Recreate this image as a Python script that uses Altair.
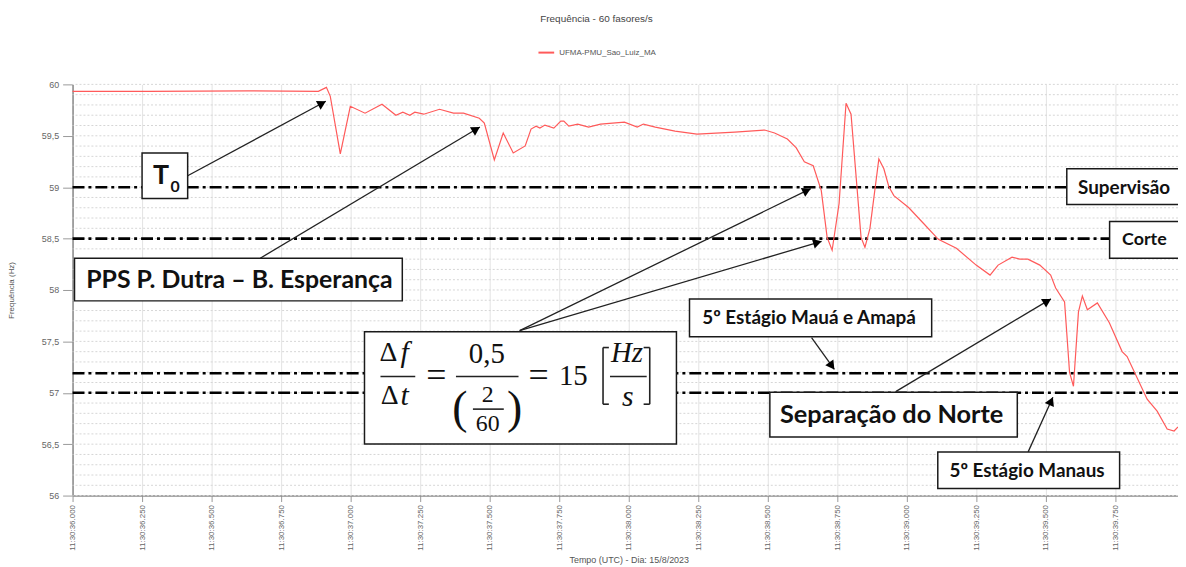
import math
import altair as alt
import pandas as pd

# ---------------- data: PMU frequency (seconds after 11:30:00 UTC, Hz) ----------------
series_name = "UFMA-PMU_Sao_Luiz_MA"
time_s = [36.000, 36.273, 36.630, 36.884, 36.913, 36.927, 36.963, 36.999, 37.052, 37.113,
          37.163, 37.188, 37.213, 37.231, 37.263, 37.320, 37.370, 37.406, 37.463, 37.481,
          37.517, 37.549, 37.585, 37.628, 37.649, 37.667, 37.681, 37.699, 37.731, 37.756,
          37.767, 37.785, 37.817, 37.856, 37.899, 37.985, 38.031, 38.053, 38.096, 38.167,
          38.246, 38.382, 38.489, 38.525, 38.571, 38.603, 38.632, 38.664, 38.693, 38.714,
          38.732, 38.757, 38.782, 38.800, 38.836, 38.850, 38.868, 38.900, 38.918, 38.936,
          38.954, 39.007, 39.061, 39.114, 39.179, 39.250, 39.300, 39.329, 39.379, 39.407,
          39.436, 39.479, 39.518, 39.536, 39.568, 39.586, 39.600, 39.618, 39.632, 39.650,
          39.686, 39.729, 39.775, 39.793, 39.865, 39.901, 39.937, 39.962, 39.976]
freq_hz = [59.932, 59.932, 59.937, 59.932, 59.971, 59.884, 59.324, 59.787, 59.720, 59.807,
           59.700, 59.729, 59.700, 59.729, 59.710, 59.758, 59.720, 59.720, 59.671, 59.623,
           59.266, 59.527, 59.333, 59.401, 59.565, 59.594, 59.575, 59.604, 59.575, 59.643,
           59.643, 59.594, 59.614, 59.585, 59.614, 59.633, 59.585, 59.614, 59.585, 59.546,
           59.517, 59.536, 59.556, 59.527, 59.469, 59.382, 59.246, 59.208, 58.966, 58.512,
           58.386, 58.841, 59.816, 59.710, 58.512, 58.415, 58.599, 59.275, 59.179, 59.005,
           58.918, 58.802, 58.647, 58.493, 58.406, 58.242, 58.145, 58.242, 58.319, 58.300,
           58.300, 58.242, 58.145, 58.019, 57.884, 57.198, 57.063, 57.787, 57.942, 57.807,
           57.874, 57.681, 57.401, 57.353, 56.937, 56.821, 56.647, 56.628, 56.667]

# ---------------- axes ----------------
x_ticks = [36.0, 36.25, 36.5, 36.75, 37.0, 37.25, 37.5, 37.75,
           38.0, 38.25, 38.5, 38.75, 39.0, 39.25, 39.5, 39.75]
y_ticks = [56.0, 56.5, 57.0, 57.5, 58.0, 58.5, 59.0, 59.5, 60.0]
grid_hz = [round(56.0 + 0.1 * i, 1) for i in range(41)]
x_domain = [36.0, 39.976]
y_domain = [56.0, 60.0]

# ---------------- reference (dash-dot) levels ----------------
ref_level = [59.0, 58.5, 57.19, 57.0]
ref_end = [39.576, 39.730, 39.976, 39.976]

# ---------------- annotation boxes ----------------
box_t0 = [36.250, 36.007, 37.050, 38.219, 38.508, 39.112, 39.576, 39.730]
box_t1 = [36.414, 37.186, 38.172, 39.090, 39.398, 39.766, 40.050, 40.050]
box_f0 = [59.333, 58.309, 57.594, 57.913, 57.005, 56.425, 59.179, 58.667]
box_f1 = [58.889, 57.894, 56.502, 57.546, 56.570, 56.068, 58.831, 58.309]

label_text = ["T", "0", "PPS P. Dutra – B. Esperança", "5º Estágio Mauá e Amapá",
              "Separação do Norte", "5º Estágio Manaus", "Supervisão", "Corte"]
label_t = [36.318, 36.369, 36.600, 38.649, 38.946, 39.433, 39.782, 39.855]
label_f = [59.111, 59.000, 58.097, 57.729, 56.783, 56.242, 58.995, 58.483]
label_size = [27, 16, 25, 19, 25.5, 19, 19, 18]

# ---------------- arrows (start -> tip) ----------------
arrow_t0 = [36.414, 36.675, 37.608, 37.608, 38.658, 38.962, 39.437]
arrow_f0 = [59.111, 58.309, 57.604, 57.604, 57.536, 57.014, 56.425]
arrow_t1 = [36.911, 37.465, 38.655, 38.694, 38.740, 39.519, 39.526]
arrow_f1 = [59.836, 59.585, 58.986, 58.473, 57.227, 57.913, 56.957]

# ---------------- formula  Δf/Δt = 0,5/(2/60) = 15 [Hz/s] ----------------
frm_up_text = ["Δ", "Δ", "=", "0,5", "(", "2", "60", ")", "=", "15"]
frm_up_t = [37.136, 37.141, 37.308, 37.490, 37.393, 37.493, 37.493, 37.590, 37.676, 37.801]
frm_up_f = [57.391, 56.966, 57.159, 57.372, 56.841, 56.976, 56.696, 56.841, 57.159, 57.159]
frm_up_size = [28, 28, 36, 29, 46, 24, 24, 46, 36, 29]
frm_it_text = ["f", "t", "Hz", "s"]
frm_it_t = [37.194, 37.194, 37.994, 37.997]
frm_it_f = [57.391, 56.966, 57.391, 56.957]
frm_it_size = [30, 30, 29, 30]
# fraction bars and square brackets
frm_ln_t0 = [37.1075, 37.379, 37.440, 37.933, 37.908, 37.908, 37.908, 38.076, 38.054, 38.054]
frm_ln_t1 = [37.2326, 37.604, 37.551, 38.065, 37.908, 37.929, 37.929, 38.076, 38.076, 38.076]
frm_ln_f0 = [57.159, 57.159, 56.841, 57.159, 57.440, 57.440, 56.889, 57.440, 57.440, 56.889]
frm_ln_f1 = [57.159, 57.159, 56.841, 57.159, 56.889, 57.440, 56.889, 56.889, 57.440, 56.889]

# ---------------- build ----------------
W, H = 1113, 414
xs = alt.Scale(domain=x_domain, nice=False, zero=False)
ys = alt.Scale(domain=y_domain, nice=False, zero=False)
sx = W / (x_domain[1] - x_domain[0])
sy = H / (y_domain[1] - y_domain[0])

x_axis = alt.Axis(
    values=x_ticks,
    labelExpr="'11:30:' + format(datum.value, '06.3f')",
    labelAngle=270, labelAlign="right", labelBaseline="middle",
    labelFontSize=8, labelColor="#666", labelFont="Liberation Sans",
    labelOverlap=False, labelFlush=False, labelPadding=3,
    tickSize=6, tickColor="#999", domainColor="#8a8a8a", domainWidth=1.5,
    grid=True, gridColor="#e3e3e3",
    title="Tempo (UTC) - Dia: 15/8/2023", titleFont="Liberation Sans",
    titleFontSize=9, titleFontWeight="normal", titleColor="#555",
    titleX=560, titleY=64, titleAlign="center", titleBaseline="middle")
y_axis = alt.Axis(
    values=y_ticks,
    labelExpr="replace(format(datum.value, '.1~f'), '.', ',')",
    labelFontSize=9, labelColor="#666", labelFont="Liberation Sans", labelPadding=4,
    tickSize=10, tickColor="#999", domainColor="#8a8a8a", domainWidth=1.5,
    grid=False,
    title="Frequência (Hz)", titleFont="Liberation Sans", titleFontSize=8,
    titleFontWeight="normal", titleColor="#555", titleAngle=270,
    titleX=-61, titleY=207, titleAlign="center", titleBaseline="middle")

X = lambda: alt.X("t:Q", scale=xs, axis=x_axis)
Y = lambda: alt.Y("f:Q", scale=ys, axis=y_axis)

line_df = pd.DataFrame({"t": time_s, "f": freq_hz, "series": series_name})
grid_df = pd.DataFrame({"f": grid_hz})
ref_df = pd.DataFrame({"t": [x_domain[0]] * len(ref_level), "t2": ref_end, "f": ref_level})
box_df = pd.DataFrame({"t": box_t0, "t2": box_t1, "f": box_f0, "f2": box_f1})
lab_df = pd.DataFrame({"t": label_t, "f": label_f, "text": label_text, "size": label_size})
arr_df = pd.DataFrame({"t": arrow_t0, "f": arrow_f0, "t2": arrow_t1, "f2": arrow_f1})

head_size = 100
h = math.sqrt(3) * (math.sqrt(head_size) / 2) / 2
heads = []
for a, b, c, d in zip(arrow_t0, arrow_f0, arrow_t1, arrow_f1):
    dxp = (c - a) * sx
    dyp = (d - b) * sy
    L = math.hypot(dxp, dyp)
    ang = math.degrees(math.atan2(dxp, dyp)) % 360
    heads.append({"t": c - h * dxp / L / sx, "f": d - h * dyp / L / sy, "angle": ang})
head_df = pd.DataFrame(heads)

fup_df = pd.DataFrame({"t": frm_up_t, "f": frm_up_f, "text": frm_up_text, "size": frm_up_size})
fit_df = pd.DataFrame({"t": frm_it_t, "f": frm_it_f, "text": frm_it_text, "size": frm_it_size})
fln_df = pd.DataFrame({"t": frm_ln_t0, "t2": frm_ln_t1, "f": frm_ln_f0, "f2": frm_ln_f1})

grid = alt.Chart(grid_df).mark_rule(color="#d6d6d6", strokeWidth=1, strokeDash=[2, 2]).encode(y=Y())

line = alt.Chart(line_df).mark_line(strokeWidth=1.2).encode(
    x=X(), y=Y(),
    color=alt.Color("series:N", scale=alt.Scale(range=["#ff5a5a"]), legend=alt.Legend(
        orient="none", legendX=468, legendY=-41, title=None, symbolType="stroke",
        symbolStrokeWidth=2, symbolSize=250, labelFontSize=8, labelColor="#555",
        labelFont="Liberation Sans", padding=0)),
)

refs = alt.Chart(ref_df).mark_rule(color="black", strokeWidth=2.6, strokeDash=[12, 4, 3, 4]).encode(
    x=X(), x2="t2:Q", y=Y())

arrows = alt.Chart(arr_df).mark_rule(color="#222", strokeWidth=1.3).encode(
    x=X(), x2="t2:Q", y=Y(), y2="f2:Q")

boxes = alt.Chart(box_df).mark_rect(fill="white", stroke="#1a1a1a", strokeWidth=1.5).encode(
    x=X(), x2="t2:Q", y=Y(), y2="f2:Q")

labels = alt.Chart(lab_df).mark_text(font="Lato", fontWeight="bold", color="#111",
                                       align="center", baseline="middle").encode(
    x=X(), y=Y(), text="text:N", size=alt.Size("size:Q", scale=None))

f_lines = alt.Chart(fln_df).mark_rule(color="#222", strokeWidth=1.6).encode(
    x=X(), x2="t2:Q", y=Y(), y2="f2:Q")
f_up = alt.Chart(fup_df).mark_text(font="Liberation Serif", color="#111",
                                   align="center", baseline="middle").encode(
    x=X(), y=Y(), text="text:N", size=alt.Size("size:Q", scale=None))
f_it = alt.Chart(fit_df).mark_text(font="Liberation Serif", fontStyle="italic", color="#111",
                                   align="center", baseline="middle").encode(
    x=X(), y=Y(), text="text:N", size=alt.Size("size:Q", scale=None))

heads_l = alt.Chart(head_df).mark_point(shape="triangle-up", filled=True, color="black",
                                         opacity=1, size=head_size).encode(
    x=X(), y=Y(), angle=alt.Angle("angle:Q", scale=None))

chart = alt.layer(grid, refs, line, arrows, boxes, labels, f_lines, f_up, f_it, heads_l).properties(
    width=W, height=H,
    autosize=alt.AutoSizeParams(type="none"),
    padding={"left": 65, "top": 75, "right": 0, "bottom": 70},
    title=alt.TitleParams("Frequência - 60 fasores/s", font="Liberation Sans", fontSize=10,
                          fontWeight="normal", color="#444", anchor="middle", frame="group",
                          dx=-29, offset=20),
).configure_view(stroke=None)

chart.save("out.html", embed_options={"renderer": "svg", "actions": False})
